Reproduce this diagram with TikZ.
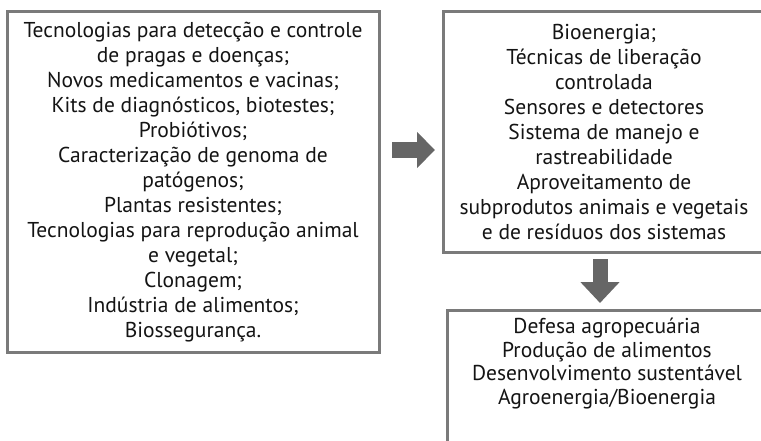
\documentclass[tikz,border=0pt]{standalone}
\usepackage{fontspec}
\setmainfont{PT Sans}
\usetikzlibrary{arrows.meta}
\definecolor{boxgray}{HTML}{7A7A7A}
\definecolor{arrowgray}{HTML}{666666}

\begin{document}
\begin{tikzpicture}[x=1pt, y=-1pt,
    box/.style={rectangle, draw=boxgray, line width=3pt, fill=white,
        inner sep=0pt, align=center, text=black!92,
        font=\fontsize{21.5}{25}\selectfont},
    words/.style={inner sep=0pt, align=center, text=black!92,
        font=\fontsize{21.5}{23.5}\selectfont},
    fatarrow/.style={draw=arrowgray, line width=#1},
    fatarrow/.default=16pt
]
    \useasboundingbox (0,0) rectangle (761,441);
    \clip (0,0) rectangle (761,441);
    \node[box, minimum width=372pt, minimum height=340pt] (tech) at (193,182)
        {Tecnologias para detecção e controle\\ de pragas e doenças;\\
         Novos medicamentos e vacinas;\\ Kits de diagnósticos, biotestes;\\
         Probiótivos;\\ Caracterização de genoma de\\ patógenos;\\
         Plantas resistentes;\\ Tecnologias para reprodução animal\\
         e vegetal;\\ Clonagem;\\ Indústria de alimentos;\\ Biossegurança.};
    \node[box, minimum width=322pt, minimum height=240pt] (bio) at (604,132)
        {Bioenergia;\\ Técnicas de liberação\\ controlada\\
         Sensores e detectores\\ Sistema de manejo e\\ rastreabilidade\\
         Aproveitamento de\\ subprodutos animais e vegetais\\
         e de resíduos dos sistemas};
    \node[box, minimum width=320pt, minimum height=200pt, anchor=north] (goal) at (607,309) {};
    \node[words, anchor=north] (goaltext) at (607,318)
        {Defesa agropecuária\\ Produção de alimentos\\
         Desenvolvimento sustentável\\ Agroenergia/Bioenergia};
    % arrows between the boxes
    \coordinate (h1) at (392,150);
    \coordinate (h2) at (435,150);
    \coordinate (v1) at (600,259);
    \coordinate (v2) at (600,303);
    \draw[fatarrow=16pt, -{Triangle[length=18pt, width=35pt, fill=arrowgray]}] (h1) -- (h2);
    \draw[fatarrow=15pt, -{Triangle[length=21pt, width=38pt, fill=arrowgray]}] (v1) -- (v2);
\end{tikzpicture}
\end{document}
